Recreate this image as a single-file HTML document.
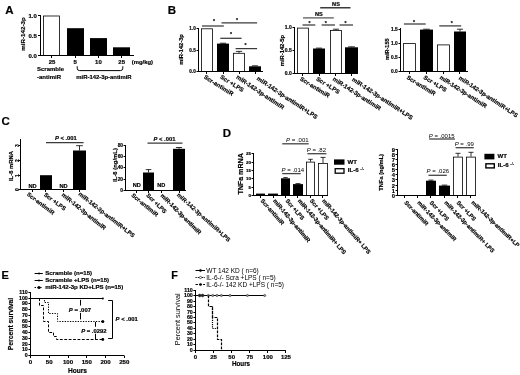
<!DOCTYPE html>
<html lang="en">
<head>
<meta charset="utf-8">
<title>Figure</title>
<style>
html,body{margin:0;padding:0;background:#fff;}
body{width:520px;height:375px;overflow:hidden;}
svg{display:block;font-family:"Liberation Sans", sans-serif;}
svg text{font-family:"Liberation Sans", sans-serif;stroke:#000;stroke-width:0.18px;}
</style>
</head>
<body>
<svg width="520" height="375" viewBox="0 0 520 375">
<rect x="0" y="0" width="520" height="375" fill="#fff"/>
<text x="5.3" y="13.5" text-anchor="start" style="font-size:11.5px;font-weight:bold;" fill="#000" >A</text>
<line x1="40.5" y1="15.0" x2="40.5" y2="56.0" stroke="#000" stroke-width="1" />
<line x1="38.0" y1="15.5" x2="40.5" y2="15.5" stroke="#000" stroke-width="1" />
<text x="36.8" y="17.66" text-anchor="end" style="font-size:6px;font-weight:bold;" fill="#000" >1.0</text>
<line x1="38.0" y1="35.5" x2="40.5" y2="35.5" stroke="#000" stroke-width="1" />
<text x="36.8" y="37.66" text-anchor="end" style="font-size:6px;font-weight:bold;" fill="#000" >0.5</text>
<line x1="38.0" y1="55.5" x2="40.5" y2="55.5" stroke="#000" stroke-width="1" />
<text x="36.8" y="57.66" text-anchor="end" style="font-size:6px;font-weight:bold;" fill="#000" >0.0</text>
<text x="25" y="34" text-anchor="middle" style="font-size:6.2px;font-weight:bold;" fill="#000" transform="rotate(-90 25 34)" >miR-142-3p</text>
<rect x="43.5" y="16.0" width="16.0" height="39.5" fill="#fff" stroke="#000" stroke-width="0.8"/>
<rect x="67.0" y="28.2" width="17.0" height="27.3" fill="#000"/>
<rect x="90.0" y="38.1" width="17.0" height="17.4" fill="#000"/>
<rect x="113.0" y="47.3" width="17.0" height="8.2" fill="#000"/>
<line x1="40.0" y1="55.5" x2="134" y2="55.5" stroke="#000" stroke-width="1" />
<line x1="51.5" y1="55.5" x2="51.5" y2="58.0" stroke="#000" stroke-width="1" />
<line x1="75.5" y1="55.5" x2="75.5" y2="58.0" stroke="#000" stroke-width="1" />
<line x1="98.5" y1="55.5" x2="98.5" y2="58.0" stroke="#000" stroke-width="1" />
<line x1="121.5" y1="55.5" x2="121.5" y2="58.0" stroke="#000" stroke-width="1" />
<text x="52" y="64.0" text-anchor="middle" style="font-size:6px;font-weight:bold;" fill="#000" >25</text>
<text x="75.2" y="64.0" text-anchor="middle" style="font-size:6px;font-weight:bold;" fill="#000" >5</text>
<text x="98.4" y="64.0" text-anchor="middle" style="font-size:6px;font-weight:bold;" fill="#000" >10</text>
<text x="121.7" y="64.0" text-anchor="middle" style="font-size:6px;font-weight:bold;" fill="#000" >25</text>
<text x="131.8" y="64.0" text-anchor="start" style="font-size:5.9px;font-weight:bold;" fill="#000" >(mg/kg)</text>
<text x="37" y="71.3" text-anchor="start" style="font-size:6px;font-weight:bold;" fill="#000" >Scramble</text>
<text x="37" y="78.7" text-anchor="start" style="font-size:6px;font-weight:bold;" fill="#000" >-antimiR</text>
<text x="76.3" y="78.7" text-anchor="start" style="font-size:5.9px;font-weight:bold;" fill="#000" >miR-142-3p-antimiR</text>
<path d="M77.2 66.3 V68.3 Q77.2 70.6 79.6 70.6 H120.4 Q122.8 70.6 122.8 68.3 V66.3" fill="none" stroke="#000" stroke-width="1"/>
<text x="167.8" y="13.6" text-anchor="start" style="font-size:11.5px;font-weight:bold;" fill="#000" >B</text>
<line x1="198.5" y1="28.0" x2="198.5" y2="72.0" stroke="#000" stroke-width="1" />
<line x1="196.5" y1="28.5" x2="198.5" y2="28.5" stroke="#000" stroke-width="1" />
<text x="195.7" y="30.16" text-anchor="end" style="font-size:4.6px;font-weight:bold;" fill="#000" >1.0</text>
<line x1="196.5" y1="50.5" x2="198.5" y2="50.5" stroke="#000" stroke-width="1" />
<text x="195.7" y="52.16" text-anchor="end" style="font-size:4.6px;font-weight:bold;" fill="#000" >0.5</text>
<line x1="196.5" y1="71.5" x2="198.5" y2="71.5" stroke="#000" stroke-width="1" />
<text x="195.7" y="73.16" text-anchor="end" style="font-size:4.6px;font-weight:bold;" fill="#000" >0.0</text>
<text x="183" y="49.5" text-anchor="middle" style="font-size:5.7px;font-weight:bold;" fill="#000" transform="rotate(-90 183 49.5)" >miR-142-3p</text>
<rect x="201.5" y="28.8" width="11.0" height="42.7" fill="#fff" stroke="#000" stroke-width="0.8"/>
<line x1="223.0" y1="43.2" x2="223.0" y2="43.6" stroke="#000" stroke-width="0.8" />
<line x1="219.92" y1="43.2" x2="226.08" y2="43.2" stroke="#000" stroke-width="0.8" />
<rect x="217.0" y="43.6" width="12.0" height="27.9" fill="#000"/>
<line x1="239.0" y1="51.4" x2="239.0" y2="52.9" stroke="#000" stroke-width="0.8" />
<line x1="235.92" y1="51.4" x2="242.08" y2="51.4" stroke="#000" stroke-width="0.8" />
<rect x="233.5" y="53.3" width="11.0" height="18.2" fill="#fff" stroke="#000" stroke-width="0.8"/>
<line x1="255.0" y1="65.8" x2="255.0" y2="66.3" stroke="#000" stroke-width="0.8" />
<line x1="251.92" y1="65.8" x2="258.08" y2="65.8" stroke="#000" stroke-width="0.8" />
<rect x="249.0" y="66.3" width="12.0" height="5.2" fill="#000"/>
<line x1="198.0" y1="71.5" x2="263" y2="71.5" stroke="#000" stroke-width="1" />
<line x1="206.5" y1="71.5" x2="206.5" y2="74.0" stroke="#000" stroke-width="1" />
<line x1="223.5" y1="71.5" x2="223.5" y2="74.0" stroke="#000" stroke-width="1" />
<line x1="239.5" y1="71.5" x2="239.5" y2="74.0" stroke="#000" stroke-width="1" />
<line x1="255.5" y1="71.5" x2="255.5" y2="74.0" stroke="#000" stroke-width="1" />
<text x="203.4" y="78.1" text-anchor="start" style="font-size:6px;font-weight:bold;" fill="#000" transform="rotate(32 203.4 78.1)" >Scr-antimiR</text>
<text x="219.7" y="78.1" text-anchor="start" style="font-size:6px;font-weight:bold;" fill="#000" transform="rotate(32 219.7 78.1)" >Scr +LPS</text>
<text x="235.8" y="78.1" text-anchor="start" style="font-size:6px;font-weight:bold;" fill="#000" transform="rotate(34 235.8 78.1)" >miR-142-3p-antimiR</text>
<text x="256.3" y="79.6" text-anchor="start" style="font-size:6px;font-weight:bold;" fill="#000" transform="rotate(33.7 256.3 79.6)" >miR-142-3p-antimiR+LPS</text>
<line x1="202" y1="26" x2="223.8" y2="26" stroke="#3a3a3a" stroke-width="1.25" />
<text x="214" y="23.3" text-anchor="middle" style="font-size:5.2px;font-weight:bold;" fill="#222" >*</text>
<line x1="221.5" y1="22.9" x2="257.1" y2="22.9" stroke="#3a3a3a" stroke-width="1.25" />
<text x="237.1" y="21.7" text-anchor="middle" style="font-size:5.2px;font-weight:bold;" fill="#222" >*</text>
<line x1="220.3" y1="38.3" x2="241.6" y2="38.3" stroke="#3a3a3a" stroke-width="1.25" />
<text x="230.9" y="35.5" text-anchor="middle" style="font-size:5.2px;font-weight:bold;" fill="#222" >*</text>
<line x1="235.6" y1="48.6" x2="257.1" y2="48.6" stroke="#3a3a3a" stroke-width="1.25" />
<text x="245.5" y="46.9" text-anchor="middle" style="font-size:5.2px;font-weight:bold;" fill="#222" >*</text>
<line x1="294.5" y1="27.0" x2="294.5" y2="74.0" stroke="#000" stroke-width="1" />
<line x1="292.5" y1="27.5" x2="294.5" y2="27.5" stroke="#000" stroke-width="1" />
<text x="291.7" y="29.3" text-anchor="end" style="font-size:5px;font-weight:bold;" fill="#000" >1.0</text>
<line x1="292.5" y1="50.5" x2="294.5" y2="50.5" stroke="#000" stroke-width="1" />
<text x="291.7" y="52.3" text-anchor="end" style="font-size:5px;font-weight:bold;" fill="#000" >0.5</text>
<line x1="292.5" y1="73.5" x2="294.5" y2="73.5" stroke="#000" stroke-width="1" />
<text x="291.7" y="75.3" text-anchor="end" style="font-size:5px;font-weight:bold;" fill="#000" >0.0</text>
<text x="284" y="50.6" text-anchor="middle" style="font-size:5.8px;font-weight:bold;" fill="#000" transform="rotate(-90 284 50.6)" >miR-142-5p</text>
<rect x="297.5" y="28.1" width="11.0" height="45.4" fill="#fff" stroke="#000" stroke-width="0.8"/>
<line x1="319.0" y1="48.1" x2="319.0" y2="48.5" stroke="#000" stroke-width="0.8" />
<line x1="315.92" y1="48.1" x2="322.08" y2="48.1" stroke="#000" stroke-width="0.8" />
<rect x="313.0" y="48.5" width="12.0" height="25.0" fill="#000"/>
<line x1="336.0" y1="29.2" x2="336.0" y2="30" stroke="#000" stroke-width="0.8" />
<line x1="332.92" y1="29.2" x2="339.08" y2="29.2" stroke="#000" stroke-width="0.8" />
<rect x="330.5" y="30.4" width="11.0" height="43.1" fill="#fff" stroke="#000" stroke-width="0.8"/>
<line x1="351.5" y1="46.8" x2="351.5" y2="47.3" stroke="#000" stroke-width="0.8" />
<line x1="348.14" y1="46.8" x2="354.86" y2="46.8" stroke="#000" stroke-width="0.8" />
<rect x="345.0" y="47.3" width="13.0" height="26.2" fill="#000"/>
<line x1="294.0" y1="73.5" x2="358" y2="73.5" stroke="#000" stroke-width="1" />
<line x1="302.5" y1="73.5" x2="302.5" y2="76.0" stroke="#000" stroke-width="1" />
<line x1="319.5" y1="73.5" x2="319.5" y2="76.0" stroke="#000" stroke-width="1" />
<line x1="335.5" y1="73.5" x2="335.5" y2="76.0" stroke="#000" stroke-width="1" />
<line x1="351.5" y1="73.5" x2="351.5" y2="76.0" stroke="#000" stroke-width="1" />
<text x="299.6" y="80.0" text-anchor="start" style="font-size:6px;font-weight:bold;" fill="#000" transform="rotate(32 299.6 80.0)" >Scr-antimiR</text>
<text x="315.7" y="80.0" text-anchor="start" style="font-size:6px;font-weight:bold;" fill="#000" transform="rotate(32 315.7 80.0)" >Scr +LPS</text>
<text x="332.2" y="80.0" text-anchor="start" style="font-size:6px;font-weight:bold;" fill="#000" transform="rotate(33 332.2 80.0)" >miR-142-3p-antimiR</text>
<text x="351.5" y="80.5" text-anchor="start" style="font-size:6px;font-weight:bold;" fill="#000" transform="rotate(33.5 351.5 80.5)" >miR-142-3p-antimiR+LPS</text>
<line x1="302.5" y1="25" x2="315.3" y2="25" stroke="#3a3a3a" stroke-width="1.25" />
<text x="309.6" y="24.9" text-anchor="middle" style="font-size:5.2px;font-weight:bold;" fill="#222" >*</text>
<line x1="321.6" y1="25" x2="335" y2="25" stroke="#3a3a3a" stroke-width="1.25" />
<text x="325.8" y="24.5" text-anchor="middle" style="font-size:5.2px;font-weight:bold;" fill="#222" >*</text>
<line x1="339.5" y1="25" x2="353" y2="25" stroke="#3a3a3a" stroke-width="1.25" />
<text x="345.5" y="24.7" text-anchor="middle" style="font-size:5.2px;font-weight:bold;" fill="#222" >*</text>
<line x1="303" y1="17.9" x2="333.8" y2="17.9" stroke="#555" stroke-width="1.25" />
<text x="318.8" y="15.7" text-anchor="middle" style="font-size:5.6px;font-weight:bold;" fill="#000" >NS</text>
<line x1="320.2" y1="7.8" x2="350.5" y2="7.8" stroke="#111" stroke-width="1.25" />
<text x="336" y="6.1" text-anchor="middle" style="font-size:5.6px;font-weight:bold;" fill="#000" >NS</text>
<line x1="400.5" y1="28.0" x2="400.5" y2="72.0" stroke="#000" stroke-width="1" />
<line x1="398.5" y1="29.5" x2="400.5" y2="29.5" stroke="#000" stroke-width="1" />
<text x="397.7" y="31.23" text-anchor="end" style="font-size:4.8px;font-weight:bold;" fill="#000" >1.5</text>
<line x1="398.5" y1="43.5" x2="400.5" y2="43.5" stroke="#000" stroke-width="1" />
<text x="397.7" y="45.23" text-anchor="end" style="font-size:4.8px;font-weight:bold;" fill="#000" >1.0</text>
<line x1="398.5" y1="57.5" x2="400.5" y2="57.5" stroke="#000" stroke-width="1" />
<text x="397.7" y="59.23" text-anchor="end" style="font-size:4.8px;font-weight:bold;" fill="#000" >0.5</text>
<line x1="398.5" y1="71.5" x2="400.5" y2="71.5" stroke="#000" stroke-width="1" />
<text x="397.7" y="73.23" text-anchor="end" style="font-size:4.8px;font-weight:bold;" fill="#000" >0.0</text>
<text x="389" y="49.2" text-anchor="middle" style="font-size:5.5px;font-weight:bold;" fill="#000" transform="rotate(-90 389 49.2)" >miR-155</text>
<rect x="403.5" y="43.6" width="12.0" height="27.9" fill="#fff" stroke="#000" stroke-width="0.8"/>
<line x1="426.5" y1="29.2" x2="426.5" y2="29.6" stroke="#000" stroke-width="0.8" />
<line x1="423.14" y1="29.2" x2="429.86" y2="29.2" stroke="#000" stroke-width="0.8" />
<rect x="420.0" y="29.6" width="13.0" height="41.9" fill="#000"/>
<rect x="437.5" y="44.9" width="12.0" height="26.6" fill="#fff" stroke="#000" stroke-width="0.8"/>
<line x1="460.0" y1="29.2" x2="460.0" y2="31.5" stroke="#000" stroke-width="0.8" />
<line x1="456.92" y1="29.2" x2="463.08" y2="29.2" stroke="#000" stroke-width="0.8" />
<rect x="454.0" y="31.5" width="12.0" height="40.0" fill="#000"/>
<line x1="400.0" y1="71.5" x2="468" y2="71.5" stroke="#000" stroke-width="1" />
<line x1="409.5" y1="71.5" x2="409.5" y2="74.0" stroke="#000" stroke-width="1" />
<line x1="426.5" y1="71.5" x2="426.5" y2="74.0" stroke="#000" stroke-width="1" />
<line x1="443.5" y1="71.5" x2="443.5" y2="74.0" stroke="#000" stroke-width="1" />
<line x1="459.5" y1="71.5" x2="459.5" y2="74.0" stroke="#000" stroke-width="1" />
<text x="406.2" y="78.4" text-anchor="start" style="font-size:5.85px;font-weight:bold;" fill="#000" transform="rotate(32 406.2 78.4)" >Scr-antimiR</text>
<text x="423.1" y="78.4" text-anchor="start" style="font-size:5.85px;font-weight:bold;" fill="#000" transform="rotate(32 423.1 78.4)" >Scr +LPS</text>
<text x="439.2" y="78.4" text-anchor="start" style="font-size:5.85px;font-weight:bold;" fill="#000" transform="rotate(33 439.2 78.4)" >miR-142-3p-antimiR</text>
<text x="458.3" y="78.9" text-anchor="start" style="font-size:5.85px;font-weight:bold;" fill="#000" transform="rotate(33.8 458.3 78.9)" >miR-142-3p-antimiR+LPS</text>
<line x1="403.9" y1="24" x2="425.7" y2="24" stroke="#3a3a3a" stroke-width="1.25" />
<text x="414" y="23.6" text-anchor="middle" style="font-size:5.2px;font-weight:bold;" fill="#222" >*</text>
<line x1="439.3" y1="25.9" x2="461.2" y2="25.9" stroke="#3a3a3a" stroke-width="1.25" />
<text x="451.8" y="24.9" text-anchor="middle" style="font-size:5.2px;font-weight:bold;" fill="#222" >*</text>
<text x="1.4" y="125.4" text-anchor="start" style="font-size:11.5px;font-weight:bold;" fill="#000" >C</text>
<line x1="20.5" y1="139.0" x2="20.5" y2="190.0" stroke="#000" stroke-width="1" />
<line x1="18.5" y1="145.5" x2="20.5" y2="145.5" stroke="#000" stroke-width="1" />
<text x="18.5" y="145.5" text-anchor="middle" style="font-size:5.0px;font-weight:bold;" fill="#000" transform="rotate(-90 18.5 145.5)" >3</text>
<line x1="18.5" y1="160.5" x2="20.5" y2="160.5" stroke="#000" stroke-width="1" />
<text x="18.5" y="160.5" text-anchor="middle" style="font-size:5.0px;font-weight:bold;" fill="#000" transform="rotate(-90 18.5 160.5)" >2</text>
<line x1="18.5" y1="175.5" x2="20.5" y2="175.5" stroke="#000" stroke-width="1" />
<text x="18.5" y="175.5" text-anchor="middle" style="font-size:5.0px;font-weight:bold;" fill="#000" transform="rotate(-90 18.5 175.5)" >1</text>
<line x1="18.5" y1="189.5" x2="20.5" y2="189.5" stroke="#000" stroke-width="1" />
<text x="18.5" y="189.5" text-anchor="middle" style="font-size:5.0px;font-weight:bold;" fill="#000" transform="rotate(-90 18.5 189.5)" >0</text>
<text x="12.6" y="166" text-anchor="middle" style="font-size:5.9px;font-weight:bold;" fill="#000" transform="rotate(-90 12.6 166)" >IL-6 mRNA</text>
<rect x="40.0" y="175.2" width="12.0" height="14.3" fill="#000"/>
<line x1="79.5" y1="145.7" x2="79.5" y2="150.5" stroke="#000" stroke-width="0.8" />
<line x1="76.14" y1="145.7" x2="82.86" y2="145.7" stroke="#000" stroke-width="0.8" />
<rect x="73.0" y="150.5" width="13.0" height="39.0" fill="#000"/>
<line x1="20.0" y1="189.5" x2="86" y2="189.5" stroke="#000" stroke-width="1" />
<line x1="32.5" y1="189.5" x2="32.5" y2="192.0" stroke="#000" stroke-width="1" />
<line x1="45.5" y1="189.5" x2="45.5" y2="192.0" stroke="#000" stroke-width="1" />
<line x1="63.5" y1="189.5" x2="63.5" y2="192.0" stroke="#000" stroke-width="1" />
<line x1="79.5" y1="189.5" x2="79.5" y2="192.0" stroke="#000" stroke-width="1" />
<text x="32.5" y="187.5" text-anchor="middle" style="font-size:5.6px;font-weight:bold;" fill="#000" >ND</text>
<text x="63.5" y="187.5" text-anchor="middle" style="font-size:5.6px;font-weight:bold;" fill="#000" >ND</text>
<text x="26.5" y="195.1" text-anchor="start" style="font-size:5.85px;font-weight:bold;" fill="#000" transform="rotate(37.5 26.5 195.1)" >Scr-antimiR</text>
<text x="43.4" y="195.4" text-anchor="start" style="font-size:5.85px;font-weight:bold;" fill="#000" transform="rotate(37 43.4 195.4)" >Scr +LPS</text>
<text x="61.3" y="195.6" text-anchor="start" style="font-size:5.85px;font-weight:bold;" fill="#000" transform="rotate(39 61.3 195.6)" >miR-142-3p-antimiR</text>
<text x="77.9" y="194.8" text-anchor="start" style="font-size:5.85px;font-weight:bold;" fill="#000" transform="rotate(38 77.9 194.8)" >miR-142-3p-antimiR+LPS</text>
<line x1="46" y1="142.5" x2="83.6" y2="142.5" stroke="#3a3a3a" stroke-width="1.25" />
<text x="65.9" y="139.8" text-anchor="middle" style="font-size:5.8px;font-weight:bold;"><tspan style="font-style:italic">P</tspan> &lt; .001</text>
<line x1="125.5" y1="145.0" x2="125.5" y2="191.0" stroke="#000" stroke-width="1" />
<line x1="123.5" y1="145.5" x2="125.5" y2="145.5" stroke="#000" stroke-width="1" />
<text x="123.0" y="147.23" text-anchor="end" style="font-size:4.8px;font-weight:bold;" fill="#000" >80</text>
<line x1="123.5" y1="156.5" x2="125.5" y2="156.5" stroke="#000" stroke-width="1" />
<text x="123.0" y="158.23" text-anchor="end" style="font-size:4.8px;font-weight:bold;" fill="#000" >60</text>
<line x1="123.5" y1="167.5" x2="125.5" y2="167.5" stroke="#000" stroke-width="1" />
<text x="123.0" y="169.23" text-anchor="end" style="font-size:4.8px;font-weight:bold;" fill="#000" >40</text>
<line x1="123.5" y1="179.5" x2="125.5" y2="179.5" stroke="#000" stroke-width="1" />
<text x="123.0" y="181.23" text-anchor="end" style="font-size:4.8px;font-weight:bold;" fill="#000" >20</text>
<line x1="123.5" y1="190.5" x2="125.5" y2="190.5" stroke="#000" stroke-width="1" />
<text x="123.0" y="192.23" text-anchor="end" style="font-size:4.8px;font-weight:bold;" fill="#000" >0</text>
<text x="117.2" y="165" text-anchor="middle" style="font-size:5.9px;font-weight:bold;" fill="#000" transform="rotate(-90 117.2 165)" >IL-6 (ng/mL)</text>
<line x1="148.5" y1="169.6" x2="148.5" y2="172.5" stroke="#000" stroke-width="0.8" />
<line x1="145.7" y1="169.6" x2="151.3" y2="169.6" stroke="#000" stroke-width="0.8" />
<rect x="143.0" y="172.5" width="11.0" height="18.0" fill="#000"/>
<line x1="179.0" y1="147.5" x2="179.0" y2="148.8" stroke="#000" stroke-width="0.8" />
<line x1="175.92" y1="147.5" x2="182.08" y2="147.5" stroke="#000" stroke-width="0.8" />
<rect x="173.0" y="148.8" width="12.0" height="41.7" fill="#000"/>
<line x1="125.0" y1="190.5" x2="186" y2="190.5" stroke="#000" stroke-width="1" />
<line x1="136.5" y1="190.5" x2="136.5" y2="193.0" stroke="#000" stroke-width="1" />
<line x1="148.5" y1="190.5" x2="148.5" y2="193.0" stroke="#000" stroke-width="1" />
<line x1="161.5" y1="190.5" x2="161.5" y2="193.0" stroke="#000" stroke-width="1" />
<line x1="179.5" y1="190.5" x2="179.5" y2="193.0" stroke="#000" stroke-width="1" />
<text x="136.7" y="186.9" text-anchor="middle" style="font-size:5.6px;font-weight:bold;" fill="#000" >ND</text>
<text x="161.3" y="186.9" text-anchor="middle" style="font-size:5.6px;font-weight:bold;" fill="#000" >ND</text>
<text x="131.1" y="195.9" text-anchor="start" style="font-size:5.85px;font-weight:bold;" fill="#000" transform="rotate(40 131.1 195.9)" >Scr-antimiR</text>
<text x="145.9" y="195.7" text-anchor="start" style="font-size:5.85px;font-weight:bold;" fill="#000" transform="rotate(44.5 145.9 195.7)" >Scr +LPS</text>
<text x="160.3" y="195.9" text-anchor="start" style="font-size:5.85px;font-weight:bold;" fill="#000" transform="rotate(45.2 160.3 195.9)" >miR-142-3p-antimiR</text>
<text x="176.5" y="195.4" text-anchor="start" style="font-size:5.85px;font-weight:bold;" fill="#000" transform="rotate(42 176.5 195.4)" >miR-142-3p-antimiR+LPS</text>
<line x1="147.5" y1="143.2" x2="182.5" y2="143.2" stroke="#3a3a3a" stroke-width="1.25" />
<text x="164.5" y="141.2" text-anchor="middle" style="font-size:5.8px;font-weight:bold;"><tspan style="font-style:italic">P</tspan> &lt; .001</text>
<text x="222.7" y="136.9" text-anchor="start" style="font-size:11.5px;font-weight:bold;" fill="#000" >D</text>
<line x1="253.5" y1="153.0" x2="253.5" y2="196.0" stroke="#000" stroke-width="1" />
<line x1="251.5" y1="153.5" x2="253.5" y2="153.5" stroke="#000" stroke-width="1" />
<text x="250.9" y="155.08" text-anchor="end" style="font-size:4.4px;font-weight:bold;" fill="#000" >25</text>
<line x1="251.5" y1="162.5" x2="253.5" y2="162.5" stroke="#000" stroke-width="1" />
<text x="250.9" y="164.08" text-anchor="end" style="font-size:4.4px;font-weight:bold;" fill="#000" >20</text>
<line x1="251.5" y1="170.5" x2="253.5" y2="170.5" stroke="#000" stroke-width="1" />
<text x="250.9" y="172.08" text-anchor="end" style="font-size:4.4px;font-weight:bold;" fill="#000" >15</text>
<line x1="251.5" y1="178.5" x2="253.5" y2="178.5" stroke="#000" stroke-width="1" />
<text x="250.9" y="180.08" text-anchor="end" style="font-size:4.4px;font-weight:bold;" fill="#000" >10</text>
<line x1="251.5" y1="187.5" x2="253.5" y2="187.5" stroke="#000" stroke-width="1" />
<text x="250.9" y="189.08" text-anchor="end" style="font-size:4.4px;font-weight:bold;" fill="#000" >5</text>
<line x1="251.5" y1="195.5" x2="253.5" y2="195.5" stroke="#000" stroke-width="1" />
<text x="250.9" y="197.08" text-anchor="end" style="font-size:4.4px;font-weight:bold;" fill="#000" >0</text>
<text x="243.4" y="173.9" text-anchor="middle" style="font-size:7.1px;font-weight:bold;" fill="#000" transform="rotate(-90 243.4 173.9)" >TNFa mRNA</text>
<rect x="256.0" y="193.6" width="9.0" height="1.9" fill="#000"/>
<rect x="268.0" y="193.6" width="10.0" height="1.9" fill="#000"/>
<line x1="285.5" y1="177.6" x2="285.5" y2="178.3" stroke="#000" stroke-width="0.8" />
<line x1="283.26" y1="177.6" x2="287.74" y2="177.6" stroke="#000" stroke-width="0.8" />
<rect x="281.0" y="178.3" width="9.0" height="17.2" fill="#000"/>
<line x1="298.0" y1="183.6" x2="298.0" y2="184.1" stroke="#000" stroke-width="0.8" />
<line x1="295.48" y1="183.6" x2="300.52" y2="183.6" stroke="#000" stroke-width="0.8" />
<rect x="293.0" y="184.1" width="10.0" height="11.4" fill="#000"/>
<line x1="310.5" y1="159.3" x2="310.5" y2="161.7" stroke="#000" stroke-width="0.8" />
<line x1="308.26" y1="159.3" x2="312.74" y2="159.3" stroke="#000" stroke-width="0.8" />
<rect x="306.5" y="162.1" width="8.0" height="33.4" fill="#fff" stroke="#000" stroke-width="0.8"/>
<line x1="323.0" y1="157.4" x2="323.0" y2="163" stroke="#000" stroke-width="0.8" />
<line x1="320.48" y1="157.4" x2="325.52" y2="157.4" stroke="#000" stroke-width="0.8" />
<rect x="318.5" y="163.4" width="9.0" height="32.1" fill="#fff" stroke="#000" stroke-width="0.8"/>
<line x1="253.0" y1="195.5" x2="328" y2="195.5" stroke="#000" stroke-width="1" />
<line x1="260.5" y1="195.5" x2="260.5" y2="198.0" stroke="#000" stroke-width="1" />
<line x1="273.5" y1="195.5" x2="273.5" y2="198.0" stroke="#000" stroke-width="1" />
<line x1="285.5" y1="195.5" x2="285.5" y2="198.0" stroke="#000" stroke-width="1" />
<line x1="297.5" y1="195.5" x2="297.5" y2="198.0" stroke="#000" stroke-width="1" />
<line x1="310.5" y1="195.5" x2="310.5" y2="198.0" stroke="#000" stroke-width="1" />
<line x1="322.5" y1="195.5" x2="322.5" y2="198.0" stroke="#000" stroke-width="1" />
<text x="260.3" y="201.0" text-anchor="start" style="font-size:5.8px;font-weight:bold;" fill="#000" transform="rotate(48.5 260.3 201.0)" >Scr-antimiR</text>
<text x="272.8" y="201.0" text-anchor="start" style="font-size:5.8px;font-weight:bold;" fill="#000" transform="rotate(50 272.8 201.0)" >miR-142-3p-antimiR</text>
<text x="285.2" y="201.0" text-anchor="start" style="font-size:5.8px;font-weight:bold;" fill="#000" transform="rotate(49.5 285.2 201.0)" >Scr +LPS</text>
<text x="297.6" y="201.0" text-anchor="start" style="font-size:5.8px;font-weight:bold;" fill="#000" transform="rotate(49.5 297.6 201.0)" >miR-142-3p-antimiR+ LPS</text>
<text x="309.6" y="201.0" text-anchor="start" style="font-size:5.8px;font-weight:bold;" fill="#000" transform="rotate(49.5 309.6 201.0)" >Scr +LPS</text>
<text x="321.7" y="201.0" text-anchor="start" style="font-size:5.8px;font-weight:bold;" fill="#000" transform="rotate(49 321.7 201.0)" >miR-142-3p-antimiR+ LPS</text>
<line x1="282.2" y1="173.6" x2="300.7" y2="173.6" stroke="#444" stroke-width="1.3" />
<text x="292.8" y="171.9" text-anchor="middle" style="font-size:6px;stroke:none;"><tspan style="font-style:italic">P</tspan> = .014</text>
<line x1="282.2" y1="143.8" x2="308.7" y2="143.8" stroke="#444" stroke-width="1.3" />
<text x="297.3" y="142.1" text-anchor="middle" style="font-size:6px;stroke:none;"><tspan style="font-style:italic">P</tspan> = .001</text>
<line x1="307.4" y1="153.7" x2="326.4" y2="153.7" stroke="#444" stroke-width="1.3" />
<text x="316.4" y="151.8" text-anchor="middle" style="font-size:6px;stroke:none;"><tspan style="font-style:italic">P</tspan> = .82</text>
<rect x="334" y="159.4" width="10.5" height="5.3" fill="#000"/>
<rect x="335.2" y="168.7" width="8.8" height="4.5" fill="#fff" stroke="#000" stroke-width="1.3"/>
<text x="347.6" y="163.8" text-anchor="start" style="font-size:6.1px;font-weight:bold;" fill="#000" >WT</text>
<text x="347.8" y="172.0" text-anchor="start" style="font-size:6.1px;font-weight:bold;" fill="#000" >IL-6 <tspan dy="-1.6" style="font-size:4px;font-weight:normal" fill="#666">-/-</tspan></text>
<line x1="397.5" y1="149.0" x2="397.5" y2="196.0" stroke="#000" stroke-width="1" />
<line x1="395.5" y1="195.5" x2="397.5" y2="195.5" stroke="#000" stroke-width="1" />
<text x="394.9" y="197.59" text-anchor="end" style="font-size:5.8px;font-weight:bold;" fill="#000" >0</text>
<line x1="395.5" y1="190.5" x2="397.5" y2="190.5" stroke="#000" stroke-width="1" />
<text x="394.9" y="192.59" text-anchor="end" style="font-size:5.8px;font-weight:bold;" fill="#000" >1</text>
<line x1="395.5" y1="185.5" x2="397.5" y2="185.5" stroke="#000" stroke-width="1" />
<text x="394.9" y="187.59" text-anchor="end" style="font-size:5.8px;font-weight:bold;" fill="#000" >2</text>
<line x1="395.5" y1="179.5" x2="397.5" y2="179.5" stroke="#000" stroke-width="1" />
<text x="394.9" y="181.59" text-anchor="end" style="font-size:5.8px;font-weight:bold;" fill="#000" >3</text>
<line x1="395.5" y1="174.5" x2="397.5" y2="174.5" stroke="#000" stroke-width="1" />
<text x="394.9" y="176.59" text-anchor="end" style="font-size:5.8px;font-weight:bold;" fill="#000" >4</text>
<line x1="395.5" y1="169.5" x2="397.5" y2="169.5" stroke="#000" stroke-width="1" />
<text x="394.9" y="171.59" text-anchor="end" style="font-size:5.8px;font-weight:bold;" fill="#000" >5</text>
<line x1="395.5" y1="164.5" x2="397.5" y2="164.5" stroke="#000" stroke-width="1" />
<text x="394.9" y="166.59" text-anchor="end" style="font-size:5.8px;font-weight:bold;" fill="#000" >6</text>
<line x1="395.5" y1="159.5" x2="397.5" y2="159.5" stroke="#000" stroke-width="1" />
<text x="394.9" y="161.59" text-anchor="end" style="font-size:5.8px;font-weight:bold;" fill="#000" >7</text>
<line x1="395.5" y1="154.5" x2="397.5" y2="154.5" stroke="#000" stroke-width="1" />
<text x="394.9" y="156.59" text-anchor="end" style="font-size:5.8px;font-weight:bold;" fill="#000" >8</text>
<line x1="395.5" y1="149.5" x2="397.5" y2="149.5" stroke="#000" stroke-width="1" />
<text x="394.9" y="151.59" text-anchor="end" style="font-size:5.8px;font-weight:bold;" fill="#000" >9</text>
<text x="382.9" y="172.3" text-anchor="middle" style="font-size:5.7px;font-weight:bold;" fill="#000" transform="rotate(-90 382.9 172.3)" >TNFa (ng/mL)</text>
<line x1="431.0" y1="180.1" x2="431.0" y2="180.7" stroke="#000" stroke-width="0.8" />
<line x1="428.48" y1="180.1" x2="433.52" y2="180.1" stroke="#000" stroke-width="0.8" />
<rect x="426.0" y="180.7" width="10.0" height="14.8" fill="#000"/>
<line x1="444.5" y1="185.1" x2="444.5" y2="185.6" stroke="#000" stroke-width="0.8" />
<line x1="441.7" y1="185.1" x2="447.3" y2="185.1" stroke="#000" stroke-width="0.8" />
<rect x="439.0" y="185.6" width="11.0" height="9.9" fill="#000"/>
<line x1="458.0" y1="153.3" x2="458.0" y2="156.7" stroke="#000" stroke-width="0.8" />
<line x1="455.48" y1="153.3" x2="460.52" y2="153.3" stroke="#000" stroke-width="0.8" />
<rect x="453.5" y="157.1" width="9.0" height="38.4" fill="#fff" stroke="#000" stroke-width="0.8"/>
<line x1="471.0" y1="152.3" x2="471.0" y2="156.7" stroke="#000" stroke-width="0.8" />
<line x1="468.48" y1="152.3" x2="473.52" y2="152.3" stroke="#000" stroke-width="0.8" />
<rect x="466.5" y="157.1" width="9.0" height="38.4" fill="#fff" stroke="#000" stroke-width="0.8"/>
<line x1="397.0" y1="195.5" x2="476" y2="195.5" stroke="#000" stroke-width="1" />
<line x1="404.5" y1="195.5" x2="404.5" y2="198.0" stroke="#000" stroke-width="1" />
<line x1="417.5" y1="195.5" x2="417.5" y2="198.0" stroke="#000" stroke-width="1" />
<line x1="430.5" y1="195.5" x2="430.5" y2="198.0" stroke="#000" stroke-width="1" />
<line x1="444.5" y1="195.5" x2="444.5" y2="198.0" stroke="#000" stroke-width="1" />
<line x1="457.5" y1="195.5" x2="457.5" y2="198.0" stroke="#000" stroke-width="1" />
<line x1="470.5" y1="195.5" x2="470.5" y2="198.0" stroke="#000" stroke-width="1" />
<text x="404.0" y="203.05" text-anchor="start" style="font-size:5.7px;font-weight:bold;" fill="#000" transform="rotate(46 404.0 203.05)" >Scr-antimiR</text>
<text x="417.0" y="203.05" text-anchor="start" style="font-size:5.7px;font-weight:bold;" fill="#000" transform="rotate(46 417.0 203.05)" >miR-142-3p-antimiR</text>
<text x="429.3" y="203.05" text-anchor="start" style="font-size:5.7px;font-weight:bold;" fill="#000" transform="rotate(46 429.3 203.05)" >Scr +LPS</text>
<text x="443.9" y="203.05" text-anchor="start" style="font-size:5.7px;font-weight:bold;" fill="#000" transform="rotate(46 443.9 203.05)" >miR-142-3p-antimiR+ LPS</text>
<text x="456.2" y="203.05" text-anchor="start" style="font-size:5.7px;font-weight:bold;" fill="#000" transform="rotate(46 456.2 203.05)" >Scr +LPS</text>
<text x="471.1" y="203.05" text-anchor="start" style="font-size:5.7px;font-weight:bold;" fill="#000" transform="rotate(44 471.1 203.05)" >miR-142-3p-antimiR+LP</text>
<line x1="428.5" y1="175.3" x2="446.8" y2="175.3" stroke="#444" stroke-width="1.3" />
<text x="437.8" y="172.5" text-anchor="middle" style="font-size:6px;stroke:none;"><tspan style="font-style:italic">P</tspan> = .026</text>
<line x1="429.1" y1="139" x2="454.9" y2="139" stroke="#444" stroke-width="1.3" />
<text x="441.7" y="137.5" text-anchor="middle" style="font-size:6px;stroke:none;"><tspan style="font-style:italic">P</tspan> = .0015</text>
<line x1="455.6" y1="147.7" x2="473.8" y2="147.7" stroke="#444" stroke-width="1.3" />
<text x="464.3" y="145.9" text-anchor="middle" style="font-size:6px;stroke:none;"><tspan style="font-style:italic">P</tspan> = .99</text>
<rect x="484.4" y="153.8" width="10" height="5.6" fill="#000"/>
<rect x="485.9" y="163.8" width="8.4" height="4.1" fill="#fff" stroke="#000" stroke-width="1.4"/>
<text x="497.6" y="158.2" text-anchor="start" style="font-size:6.1px;font-weight:bold;" fill="#000" >WT</text>
<text x="497.8" y="166.7" text-anchor="start" style="font-size:6.1px;font-weight:bold;" fill="#000" >IL-6 <tspan dy="-1.6" style="font-size:4px;font-weight:normal" fill="#666">-/-</tspan></text>
<text x="1.6" y="278.9" text-anchor="start" style="font-size:11px;font-weight:bold;" fill="#000" >E</text>
<line x1="30.5" y1="292.0" x2="30.5" y2="356.0" stroke="#000" stroke-width="1" />
<line x1="28.4" y1="355.5" x2="30.5" y2="355.5" stroke="#000" stroke-width="1" />
<text x="27.8" y="357.41" text-anchor="end" style="font-size:5.3px;font-weight:bold;" fill="#000" >0</text>
<line x1="28.4" y1="349.5" x2="30.5" y2="349.5" stroke="#000" stroke-width="1" />
<text x="27.8" y="351.41" text-anchor="end" style="font-size:5.3px;font-weight:bold;" fill="#000" >10</text>
<line x1="28.4" y1="344.5" x2="30.5" y2="344.5" stroke="#000" stroke-width="1" />
<text x="27.8" y="346.41" text-anchor="end" style="font-size:5.3px;font-weight:bold;" fill="#000" >20</text>
<line x1="28.4" y1="338.5" x2="30.5" y2="338.5" stroke="#000" stroke-width="1" />
<text x="27.8" y="340.41" text-anchor="end" style="font-size:5.3px;font-weight:bold;" fill="#000" >30</text>
<line x1="28.4" y1="332.5" x2="30.5" y2="332.5" stroke="#000" stroke-width="1" />
<text x="27.8" y="334.41" text-anchor="end" style="font-size:5.3px;font-weight:bold;" fill="#000" >40</text>
<line x1="28.4" y1="326.5" x2="30.5" y2="326.5" stroke="#000" stroke-width="1" />
<text x="27.8" y="328.41" text-anchor="end" style="font-size:5.3px;font-weight:bold;" fill="#000" >50</text>
<line x1="28.4" y1="321.5" x2="30.5" y2="321.5" stroke="#000" stroke-width="1" />
<text x="27.8" y="323.41" text-anchor="end" style="font-size:5.3px;font-weight:bold;" fill="#000" >60</text>
<line x1="28.4" y1="315.5" x2="30.5" y2="315.5" stroke="#000" stroke-width="1" />
<text x="27.8" y="317.41" text-anchor="end" style="font-size:5.3px;font-weight:bold;" fill="#000" >70</text>
<line x1="28.4" y1="309.5" x2="30.5" y2="309.5" stroke="#000" stroke-width="1" />
<text x="27.8" y="311.41" text-anchor="end" style="font-size:5.3px;font-weight:bold;" fill="#000" >80</text>
<line x1="28.4" y1="303.5" x2="30.5" y2="303.5" stroke="#000" stroke-width="1" />
<text x="27.8" y="305.41" text-anchor="end" style="font-size:5.3px;font-weight:bold;" fill="#000" >90</text>
<line x1="28.4" y1="298.5" x2="30.5" y2="298.5" stroke="#000" stroke-width="1" />
<text x="27.8" y="300.41" text-anchor="end" style="font-size:5.3px;font-weight:bold;" fill="#000" >100</text>
<line x1="28.4" y1="292.5" x2="30.5" y2="292.5" stroke="#000" stroke-width="1" />
<text x="27.8" y="294.41" text-anchor="end" style="font-size:5.3px;font-weight:bold;" fill="#000" >110</text>
<text x="13.1" y="324" text-anchor="middle" style="font-size:6.8px;font-weight:bold;" fill="#000" transform="rotate(-90 13.1 324)" >Percent survival</text>
<line x1="30.0" y1="355.5" x2="124" y2="355.5" stroke="#000" stroke-width="1" />
<line x1="30.5" y1="355.5" x2="30.5" y2="358.0" stroke="#000" stroke-width="1" />
<line x1="49.5" y1="355.5" x2="49.5" y2="358.0" stroke="#000" stroke-width="1" />
<line x1="68.5" y1="355.5" x2="68.5" y2="358.0" stroke="#000" stroke-width="1" />
<line x1="86.5" y1="355.5" x2="86.5" y2="358.0" stroke="#000" stroke-width="1" />
<line x1="105.5" y1="355.5" x2="105.5" y2="358.0" stroke="#000" stroke-width="1" />
<line x1="124.5" y1="355.5" x2="124.5" y2="358.0" stroke="#000" stroke-width="1" />
<text x="30.5" y="364.3" text-anchor="middle" style="font-size:6.1px;font-weight:bold;" fill="#000" >0</text>
<text x="49.25" y="364.3" text-anchor="middle" style="font-size:6.1px;font-weight:bold;" fill="#000" >50</text>
<text x="68.0" y="364.3" text-anchor="middle" style="font-size:6.1px;font-weight:bold;" fill="#000" >100</text>
<text x="86.75" y="364.3" text-anchor="middle" style="font-size:6.1px;font-weight:bold;" fill="#000" >150</text>
<text x="105.5" y="364.3" text-anchor="middle" style="font-size:6.1px;font-weight:bold;" fill="#000" >200</text>
<text x="124.25" y="364.3" text-anchor="middle" style="font-size:6.1px;font-weight:bold;" fill="#000" >250</text>
<text x="77.5" y="373.2" text-anchor="middle" style="font-size:6.6px;font-weight:bold;" fill="#000" >Hours</text>
<line x1="34.6" y1="273.5" x2="42.8" y2="273.5" stroke="#000" stroke-width="1" />
<circle cx="39" cy="273.5" r="1.0" fill="#000"/>
<text x="45.2" y="275.4" text-anchor="start" style="font-size:6.05px;font-weight:bold;" fill="#000" >Scramble (n=15)</text>
<line x1="34.6" y1="280.5" x2="42.8" y2="280.5" stroke="#000" stroke-width="1" />
<circle cx="39" cy="280.5" r="1.0" fill="#000"/>
<text x="45.2" y="282.4" text-anchor="start" style="font-size:6.05px;font-weight:bold;" fill="#000" >Scramble +LPS (n=15)</text>
<line x1="34.6" y1="287.5" x2="42.8" y2="287.5" stroke="#000" stroke-width="1" stroke-dasharray="1.4 1.4"/>
<circle cx="39" cy="287.5" r="1.6" fill="#000"/>
<text x="45.2" y="289.4" text-anchor="start" style="font-size:6.05px;font-weight:bold;" fill="#000" >miR-142-3p KD+LPS (n=15)</text>
<path d="M30.5 298.5 H102.8" fill="none" stroke="#000" stroke-width="1"/>
<path d="M30.5 298.5 H44.5 V302.5 H48.5 V313.5 H57.5 V321.5 H102.8" fill="none" stroke="#000" stroke-width="1" stroke-dasharray="1.3 1.3"/>
<path d="M30.5 298.5 H39.5 V305.5 H43.5 V321.5 H48.5 V332.5 H53.5 V336.5 H56.5 V339.5 H102.8" fill="none" stroke="#000" stroke-width="1" stroke-dasharray="2.8 1.6"/>
<circle cx="102.8" cy="298.5" r="1.1" fill="#000"/>
<circle cx="102.8" cy="321.5" r="1.5" fill="#000"/>
<circle cx="102.8" cy="339.5" r="1.4" fill="#000"/>
<line x1="80.5" y1="299.8" x2="80.5" y2="305.5" stroke="#000" stroke-width="1" />
<line x1="80.5" y1="312.9" x2="80.5" y2="319.4" stroke="#000" stroke-width="1" />
<line x1="95.5" y1="321.9" x2="95.5" y2="326.8" stroke="#000" stroke-width="1" />
<line x1="95.5" y1="333.8" x2="95.5" y2="339" stroke="#000" stroke-width="1" />
<path d="M108.2 300.5 H112.5 V338.5 H108.2" fill="none" stroke="#000" stroke-width="1"/>
<text x="79.9" y="311.7" text-anchor="middle" style="font-size:5.9px;font-weight:bold;"><tspan style="font-style:italic">P</tspan> = .007</text>
<text x="93.9" y="332.5" text-anchor="middle" style="font-size:5.9px;font-weight:bold;"><tspan style="font-style:italic">P</tspan> = .0292</text>
<text x="115.6" y="321" text-anchor="start" style="font-size:5.9px;font-weight:bold;"><tspan style="font-style:italic">P</tspan> &lt; .001</text>
<text x="171.3" y="278.6" text-anchor="start" style="font-size:10.8px;font-weight:bold;" fill="#000" >F</text>
<line x1="195.5" y1="290.0" x2="195.5" y2="351.0" stroke="#000" stroke-width="1" />
<line x1="193.4" y1="350.5" x2="195.5" y2="350.5" stroke="#000" stroke-width="1" />
<text x="192.8" y="352.41" text-anchor="end" style="font-size:5.3px;font-weight:bold;" fill="#000" >0</text>
<line x1="193.4" y1="344.5" x2="195.5" y2="344.5" stroke="#000" stroke-width="1" />
<text x="192.8" y="346.41" text-anchor="end" style="font-size:5.3px;font-weight:bold;" fill="#000" >10</text>
<line x1="193.4" y1="339.5" x2="195.5" y2="339.5" stroke="#000" stroke-width="1" />
<text x="192.8" y="341.41" text-anchor="end" style="font-size:5.3px;font-weight:bold;" fill="#000" >20</text>
<line x1="193.4" y1="333.5" x2="195.5" y2="333.5" stroke="#000" stroke-width="1" />
<text x="192.8" y="335.41" text-anchor="end" style="font-size:5.3px;font-weight:bold;" fill="#000" >30</text>
<line x1="193.4" y1="328.5" x2="195.5" y2="328.5" stroke="#000" stroke-width="1" />
<text x="192.8" y="330.41" text-anchor="end" style="font-size:5.3px;font-weight:bold;" fill="#000" >40</text>
<line x1="193.4" y1="322.5" x2="195.5" y2="322.5" stroke="#000" stroke-width="1" />
<text x="192.8" y="324.41" text-anchor="end" style="font-size:5.3px;font-weight:bold;" fill="#000" >50</text>
<line x1="193.4" y1="317.5" x2="195.5" y2="317.5" stroke="#000" stroke-width="1" />
<text x="192.8" y="319.41" text-anchor="end" style="font-size:5.3px;font-weight:bold;" fill="#000" >60</text>
<line x1="193.4" y1="312.5" x2="195.5" y2="312.5" stroke="#000" stroke-width="1" />
<text x="192.8" y="314.41" text-anchor="end" style="font-size:5.3px;font-weight:bold;" fill="#000" >70</text>
<line x1="193.4" y1="306.5" x2="195.5" y2="306.5" stroke="#000" stroke-width="1" />
<text x="192.8" y="308.41" text-anchor="end" style="font-size:5.3px;font-weight:bold;" fill="#000" >80</text>
<line x1="193.4" y1="301.5" x2="195.5" y2="301.5" stroke="#000" stroke-width="1" />
<text x="192.8" y="303.41" text-anchor="end" style="font-size:5.3px;font-weight:bold;" fill="#000" >90</text>
<line x1="193.4" y1="295.5" x2="195.5" y2="295.5" stroke="#000" stroke-width="1" />
<text x="192.8" y="297.41" text-anchor="end" style="font-size:5.3px;font-weight:bold;" fill="#000" >100</text>
<line x1="193.4" y1="290.5" x2="195.5" y2="290.5" stroke="#000" stroke-width="1" />
<text x="192.8" y="292.41" text-anchor="end" style="font-size:5.3px;font-weight:bold;" fill="#000" >110</text>
<text x="180.3" y="319.2" text-anchor="middle" style="font-size:7.3px;stroke:none;" fill="#000" transform="rotate(-90 180.3 319.2)" >Percent survival</text>
<line x1="195.0" y1="350.5" x2="286" y2="350.5" stroke="#000" stroke-width="1" />
<line x1="195.5" y1="350.5" x2="195.5" y2="353.0" stroke="#000" stroke-width="1" />
<line x1="213.5" y1="350.5" x2="213.5" y2="353.0" stroke="#000" stroke-width="1" />
<line x1="231.5" y1="350.5" x2="231.5" y2="353.0" stroke="#000" stroke-width="1" />
<line x1="249.5" y1="350.5" x2="249.5" y2="353.0" stroke="#000" stroke-width="1" />
<line x1="267.5" y1="350.5" x2="267.5" y2="353.0" stroke="#000" stroke-width="1" />
<line x1="285.5" y1="350.5" x2="285.5" y2="353.0" stroke="#000" stroke-width="1" />
<text x="195.5" y="358.6" text-anchor="middle" style="font-size:6.0px;font-weight:bold;" fill="#000" >0</text>
<text x="213.59" y="358.6" text-anchor="middle" style="font-size:6.0px;font-weight:bold;" fill="#000" >25</text>
<text x="231.68" y="358.6" text-anchor="middle" style="font-size:6.0px;font-weight:bold;" fill="#000" >50</text>
<text x="249.77" y="358.6" text-anchor="middle" style="font-size:6.0px;font-weight:bold;" fill="#000" >75</text>
<text x="267.86" y="358.6" text-anchor="middle" style="font-size:6.0px;font-weight:bold;" fill="#000" >100</text>
<text x="285.95" y="358.6" text-anchor="middle" style="font-size:6.0px;font-weight:bold;" fill="#000" >125</text>
<text x="241" y="366.4" text-anchor="middle" style="font-size:6.3px;font-weight:bold;" fill="#000" >Hours</text>
<line x1="195.5" y1="270.5" x2="205" y2="270.5" stroke="#000" stroke-width="1" />
<circle cx="200.5" cy="270.5" r="1.1" fill="#000" stroke="#000" stroke-width="0.6"/>
<text x="206.3" y="272.8" text-anchor="start" style="font-size:6.5px;stroke:none;" fill="#000" >WT 142 KD ( n=6)</text>
<line x1="195.5" y1="277.5" x2="205" y2="277.5" stroke="#000" stroke-width="1" stroke-dasharray="1.2 1.0"/>
<circle cx="200.5" cy="277.5" r="1.1" fill="#fff" stroke="#000" stroke-width="0.6"/>
<text x="206.3" y="279.8" text-anchor="start" style="font-size:6.5px;stroke:none;" fill="#000" >IL-6-/- Scra +LPS ( n=5)</text>
<line x1="195.5" y1="284.5" x2="205" y2="284.5" stroke="#000" stroke-width="1" stroke-dasharray="2.4 1.4"/>
<circle cx="200.5" cy="284.5" r="1.1" fill="#000" stroke="#000" stroke-width="0.6"/>
<text x="206.3" y="286.8" text-anchor="start" style="font-size:6.5px;stroke:none;" fill="#000" >IL-6-/- 142 KD +LPS ( n=5)</text>
<path d="M195.5 295.5 H265" fill="none" stroke="#000" stroke-width="1"/>
<circle cx="199.7" cy="295.5" r="1.4" fill="#222" stroke="#333" stroke-width="0.6"/>
<circle cx="202.6" cy="295.5" r="1.4" fill="#222" stroke="#333" stroke-width="0.6"/>
<circle cx="208.4" cy="295.5" r="1.1" fill="#999" stroke="#333" stroke-width="0.6"/>
<circle cx="212.7" cy="295.5" r="1.1" fill="#999" stroke="#333" stroke-width="0.6"/>
<circle cx="217" cy="295.5" r="1.1" fill="#999" stroke="#333" stroke-width="0.6"/>
<circle cx="221.4" cy="295.5" r="1.1" fill="#999" stroke="#333" stroke-width="0.6"/>
<circle cx="230" cy="295.5" r="1.1" fill="#999" stroke="#333" stroke-width="0.6"/>
<circle cx="247.4" cy="295.5" r="1.1" fill="#999" stroke="#333" stroke-width="0.6"/>
<circle cx="264.7" cy="295.5" r="1.1" fill="#999" stroke="#333" stroke-width="0.6"/>
<path d="M208.5 295.5 V306.5 H212.5 V317.5 H217.5 V339.5 H221.5 V350.5" fill="none" stroke="#000" stroke-width="1.2" stroke-dasharray="2.8 1.2"/>
<path d="M212.5 306.5 V328.5 H217.5" fill="none" stroke="#000" stroke-width="1.2" stroke-dasharray="1.2 1.0"/>
</svg>
</body>
</html>
